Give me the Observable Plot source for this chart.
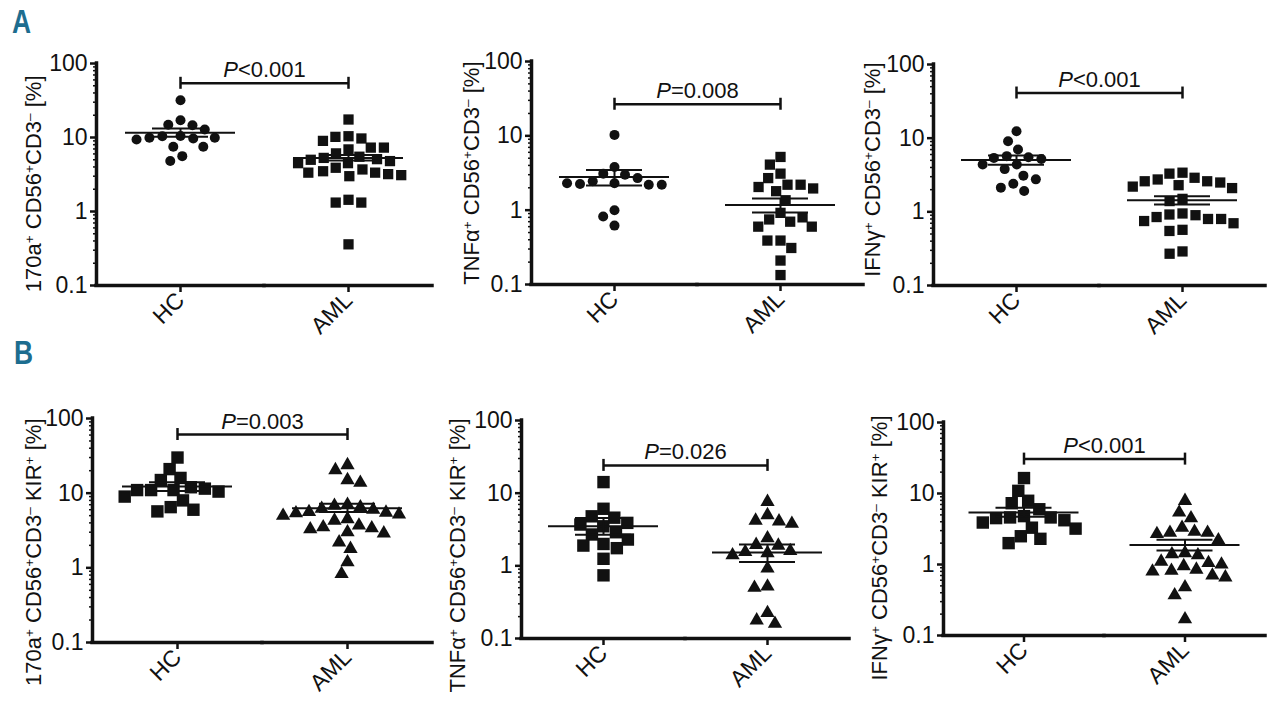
<!DOCTYPE html>
<html>
<head>
<meta charset="utf-8">
<script src="https://cdn.jsdelivr.net/npm/d3@7"></script>
<script src="https://cdn.jsdelivr.net/npm/@observablehq/plot@0.6"></script>
<style>
  body { margin: 0; background: #fff; }
  #root { position: relative; width: 1280px; height: 711px; overflow: hidden; background: #fff; }
  .tag { position: absolute; font-family: "Liberation Sans Narrow", "Liberation Sans", Arial, sans-serif; font-weight: bold; font-size: 33px; line-height: 1; color: #1d6d8f; transform: scaleX(0.8); transform-origin: left top; }
</style>
</head>
<body>
<div id="root">
  <div class="tag" style="left:12px; top:5px;">A</div>
  <div class="tag" style="left:14px; top:336px;">B</div>
</div>
<script>
// ---------- data ----------
const groups = ["HC", "AML"];
const majorTicks = [0.1, 1, 10, 100];
const minorTicks = [0.2, 0.3, 0.4, 0.5, 0.6, 0.7, 0.8, 0.9, 2, 3, 4, 5, 6, 7, 8, 9, 20, 30, 40, 50, 60, 70, 80, 90];

// Panel A1: 170a+ CD56+CD3-
const a1HC = [31.8, 17.1, 14.9, 14.6, 12.8, 10.5, 10.4, 9.9, 9.9, 9.7, 9.4, 7.5, 7.5, 5.6, 4.8];
const a1AML = [17.5, 10.4, 10.2, 9.7, 9.0, 7.3, 7.3, 6.9, 6.1, 5.5, 5.3, 5.1, 5.0, 4.8, 4.5, 4.5, 3.9, 3.7, 3.5, 3.35, 3.35, 3.2, 3.1, 3.0, 1.44, 1.32, 1.32, 0.36];
const a1Mean = [11.6, 5.3];
const a1SemLo = [10.2, 4.9];
const a1SemHi = [13.2, 5.8];

// Panel A2: TNFa+ CD56+CD3-
const a2HC = [10.3, 3.8, 3.1, 3.0, 2.7, 2.45, 2.3, 2.25, 2.2, 2.2, 2.3, 1.0, 0.82, 0.62];
const a2AML = [5.2, 4.1, 3.1, 2.7, 2.2, 2.2, 2.05, 1.96, 1.8, 1.36, 0.92, 0.75, 0.7, 0.8, 0.6, 0.6, 0.39, 0.39, 0.31, 0.21, 0.134];
const a2Mean = [2.79, 1.17];
const a2SemLo = [2.15, 0.93];
const a2SemHi = [3.47, 1.44];

// Panel A3: IFNg+ CD56+CD3-
const a3HC = [12.4, 9.1, 7.0, 5.7, 5.5, 5.4, 5.2, 4.4, 4.4, 3.8, 3.1, 2.76, 2.4, 2.13, 1.92];
const a3AML = [3.4, 3.3, 2.9, 2.75, 2.6, 2.6, 2.5, 2.3, 2.2, 2.1, 1.5, 1.4, 0.95, 0.92, 0.9, 0.85, 0.8, 0.8, 0.75, 0.7, 0.57, 0.55, 0.29, 0.27];
const a3Mean = [5.04, 1.44];
const a3SemLo = [4.36, 1.26];
const a3SemHi = [5.8, 1.63];

// Panel B1: 170a+ CD56+CD3- KIR+
const b1HC = [30, 21, 16, 15, 12, 11.5, 11, 11, 11, 10.5, 9, 8, 6.5, 6, 5.7];
const b1AML = [23.8, 20.4, 15, 13.8, 7, 6.8, 6.5, 6.2, 6.0, 5.6, 5.5, 5.4, 5.2, 5.0, 4.5, 4.3, 3.7, 3.5, 3.4, 3.3, 3.0, 2.9, 2.2, 1.8, 1.19, 0.83];
const b1Mean = [12.3, 6.3];
const b1SemLo = [10.7, 5.6];
const b1SemHi = [14.0, 7.2];

// Panel B2: TNFa+ CD56+CD3- KIR+
const b2HC = [14.2, 6.1, 4.8, 4.6, 3.9, 3.7, 3.5, 2.9, 2.7, 2.3, 2.0, 1.9, 1.75, 1.25, 0.74];
const b2AML = [7.6, 5.0, 4.2, 4.1, 3.8, 2.4, 1.95, 1.9, 1.6, 1.55, 1.5, 1.4, 0.92, 0.52, 0.5, 0.225, 0.178, 0.16];
const b2Mean = [3.5, 1.52];
const b2SemLo = [2.68, 1.13];
const b2SemHi = [4.55, 1.96];

// Panel B3: IFNg+ CD56+CD3- KIR+
const b3HC = [16.5, 10.9, 7.9, 7.3, 6.0, 4.8, 4.6, 4.6, 4.5, 4.2, 3.9, 3.3, 3.2, 2.5, 2.3, 2.0];
const b3AML = [7.9, 5.4, 4.5, 3.3, 2.9, 2.8, 2.8, 2.7, 2.2, 1.45, 1.4, 1.35, 1.1, 1.05, 1.0, 0.95, 0.85, 0.82, 0.8, 0.7, 0.66, 0.48, 0.37, 0.17];
const b3Mean = [5.4, 1.88];
const b3SemLo = [4.7, 1.57];
const b3SemHi = [6.3, 2.24];

const pTexts = ["P<0.001", "P=0.008", "P<0.001", "P=0.003", "P=0.026", "P<0.001"];
const bracketValues = [54, 26.6, 41, 61, 24.1, 30.5];
const yLabels = [
  "170a⁺ CD56⁺CD3⁻ [%]",
  "TNFα⁺ CD56⁺CD3⁻ [%]",
  "IFNγ⁺ CD56⁺CD3⁻ [%]",
  "170a⁺ CD56⁺CD3⁻ KIR⁺ [%]",
  "TNFα⁺ CD56⁺CD3⁻ KIR⁺ [%]",
  "IFNγ⁺ CD56⁺CD3⁻ KIR⁺ [%]"
];

// ---------- layout & styles ----------
const FONT = '"Liberation Sans Narrow", "Liberation Sans", Arial, sans-serif';
const layouts = [
  {left: 96,  band: 168, top: 63,  bottom: 285, lx: -63, ly: 12},
  {left: 531, band: 166, top: 61,  bottom: 284, lx: -60, ly: 0},
  {left: 933, band: 166, top: 64,  bottom: 285, lx: -61, ly: -2},
  {left: 92,  band: 170, top: 418, bottom: 642, lx: -59, ly: 0},
  {left: 521, band: 164, top: 420, bottom: 638, lx: -64, ly: -2},
  {left: 943, band: 161, top: 422, bottom: 635, lx: -64, ly: -7}
];
const symA = {hcSym: "circle", hcR: 5, hcPad: 3, amlSym: "square", amlR: 5.8, amlPad: 1.5};
const symB = {hcSym: "square", hcR: 7.0, hcPad: 0, amlSym: "triangle", amlR: 5.3, amlPad: 2.5};

const panels = [
  {hc: a1HC, aml: a1AML, mean: a1Mean, lo: a1SemLo, hi: a1SemHi, ...symA},
  {hc: a2HC, aml: a2AML, mean: a2Mean, lo: a2SemLo, hi: a2SemHi, ...symA},
  {hc: a3HC, aml: a3AML, mean: a3Mean, lo: a3SemLo, hi: a3SemHi, ...symA},
  {hc: b1HC, aml: b1AML, mean: b1Mean, lo: b1SemLo, hi: b1SemHi, ...symB},
  {hc: b2HC, aml: b2AML, mean: b2Mean, lo: b2SemLo, hi: b2SemHi, ...symB},
  {hc: b3HC, aml: b3AML, mean: b3Mean, lo: b3SemLo, hi: b3SemHi, ...symB}
];

function decorateText(svg) {
  svg.querySelectorAll("text").forEach(t => {
    if (t.querySelector("tspan")) return;
    const s = t.textContent;
    if (/^P[<=]/.test(s)) {
      t.textContent = "";
      const p = document.createElementNS("http://www.w3.org/2000/svg", "tspan");
      p.setAttribute("font-style", "italic");
      p.textContent = "P";
      t.appendChild(p);
      const r = document.createElementNS("http://www.w3.org/2000/svg", "tspan");
      r.textContent = s.slice(1);
      t.appendChild(r);
    } else if (/[⁺⁻]/.test(s)) {
      t.textContent = "";
      for (const part of s.split(/([⁺⁻])/)) {
        if (!part) continue;
        const sp = document.createElementNS("http://www.w3.org/2000/svg", "tspan");
        if (part === "⁺" || part === "⁻") {
          sp.setAttribute("baseline-shift", "super");
          sp.setAttribute("font-size", "62%");
          sp.textContent = part === "⁺" ? "+" : "–";
        } else {
          sp.textContent = part;
        }
        t.appendChild(sp);
      }
    }
  });
}

const root = document.getElementById("root");
const ml = 90, mr = 8, mt = 45, mb = 90;

panels.forEach((P, k) => {
  const L = layouts[k];
  const hcPts = P.hc.map(v => ({g: "HC", v}));
  const amlPts = P.aml.map(v => ({g: "AML", v}));
  const stats = groups.map((g, i) => ({g, mean: P.mean[i], lo: P.lo[i], hi: P.hi[i]}));
  const bracket = bracketValues[k];
  const hcOnly = () => "HC";
  const meanInset = (L.band - 110) / 2;
  const capInset = (L.band - 56) / 2;
  const W = ml + 2 * L.band + mr;
  const H = mt + (L.bottom - L.top) + mb;

  const svg = Plot.plot({
    width: W, height: H,
    marginLeft: ml, marginRight: mr, marginTop: mt, marginBottom: mb,
    style: {fontFamily: FONT, fontSize: "22px", color: "#111", background: "transparent", overflow: "visible"},
    fx: {domain: groups, padding: 0, label: null},
    x: {domain: [0, 1], axis: null},
    y: {type: "log", domain: [0.1, 100], label: null},
    marks: [
      Plot.axisY({ticks: minorTicks, tickSize: 3, tickFormat: () => "", strokeWidth: 1.5, label: null}),
      Plot.axisY({ticks: majorTicks, tickSize: 6, tickPadding: 3, tickFormat: d => String(d), strokeWidth: 2.5, fontSize: 23, label: null}),
      Plot.axisFx({anchor: "bottom", tickSize: 7, tickPadding: 4, tickRotate: -45, strokeWidth: 2.5, fontSize: 23, label: null}),
      Plot.ruleY([0.1], {strokeWidth: 3.5, strokeLinecap: "square", stroke: "#111"}),
      Plot.ruleX([0], {fx: hcOnly, x: d => d, y1: 0.1, y2: 100, strokeWidth: 3.5, strokeLinecap: "square", stroke: "#111"}),
      Plot.dot(hcPts, Plot.dodgeX({anchor: "middle", padding: P.hcPad}, {fx: "g", y: "v", r: P.hcR, symbol: P.hcSym, fill: "#111", stroke: "none"})),
      Plot.dot(amlPts, Plot.dodgeX({anchor: "middle", padding: P.amlPad}, {fx: "g", y: "v", r: P.amlR, symbol: P.amlSym, fill: "#111", stroke: "none"})),
      Plot.ruleY(stats, {fx: "g", y: "mean", insetLeft: meanInset, insetRight: meanInset, strokeWidth: 2, stroke: "#111"}),
      Plot.ruleY(stats, {fx: "g", y: "hi", insetLeft: capInset, insetRight: capInset, strokeWidth: 2, stroke: "#111"}),
      Plot.ruleY(stats, {fx: "g", y: "lo", insetLeft: capInset, insetRight: capInset, strokeWidth: 2, stroke: "#111"}),
      Plot.ruleX(stats, {fx: "g", x: () => 0.5, y1: "lo", y2: "hi", strokeWidth: 2, stroke: "#111"}),
      Plot.ruleY([bracket], {fx: hcOnly, y: d => d, x1: () => 0.5, x2: () => 1.5, strokeWidth: 2.5, stroke: "#111"}),
      Plot.ruleX(groups, {fx: d => d, x: () => 0.5, y1: () => bracket, y2: () => bracket, insetTop: -6, insetBottom: -6, strokeWidth: 2.5, stroke: "#111"}),
      Plot.text([pTexts[k]], {fx: hcOnly, x: () => 1, y: () => bracket, dy: -6, lineAnchor: "bottom", fontSize: 22, fill: "#111"}),
      Plot.text([yLabels[k]], {fx: hcOnly, frameAnchor: "top-left", rotate: -90, textAnchor: "end", lineAnchor: "middle", dx: L.lx, dy: L.ly, fontSize: 22, fill: "#111"})
    ]
  });
  decorateText(svg);
  svg.style.position = "absolute";
  svg.style.left = (L.left - ml) + "px";
  svg.style.top = (L.top - mt) + "px";
  svg.style.maxWidth = "none";
  root.appendChild(svg);
});
</script>
</body>
</html>
